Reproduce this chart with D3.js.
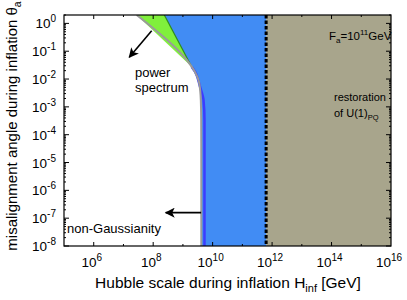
<!DOCTYPE html>
<html>
<head>
<meta charset="utf-8">
<script src="https://cdn.jsdelivr.net/npm/d3@7"></script>
<style>
  body { margin: 0; background: #fff; }
  text { font-family: "Liberation Sans", Arial, sans-serif; fill: #000; }
</style>
</head>
<body>
<div id="chart"></div>
<script>
// Hubble scale H_inf [GeV] vs misalignment angle theta_a
const xTicks = [1e6, 1e8, 1e10, 1e12, 1e14, 1e16];
const yTicks = [1e0, 1e-1, 1e-2, 1e-3, 1e-4, 1e-5, 1e-6, 1e-7, 1e-8];

// gray "power spectrum" bound [H, theta]
const powerSpectrum = [
  [2.79e7, 2], [1.97e9, 0.0278], [2.55e9, 0.0179], [3.48e9, 7.8e-3],
  [4.0e9, 1.77e-3], [4.12e9, 3.4e-4], [4.15e9, 1e-5], [4.15e9, 1e-8]
];
// upper edge of the blue region (green/blue border)
const isocurvature = [[2.37e8, 2], [1.97e9, 0.0278]];
// dark blue bound below the knee
const blueBound = [
  [1.97e9, 0.0278], [2.55e9, 0.0184], [3.76e9, 5.3e-3], [4.93e9, 1.77e-3],
  [5.32e9, 3.4e-4], [5.32e9, 1e-5], [5.32e9, 1e-8]
];
// restoration of U(1)_PQ : H_inf > 2 pi F_a
const hRestore = 6.3e11;
const hMax = 1e16;

// arrows [from, to]
const psArrow = [[8.9e7, 0.547], [1.57e7, 0.0605]];
const ngArrow = [[4.1e9, 1.58e-7], [2.64e8, 1.58e-7]];

const margin = { top: 15, right: 16, bottom: 54, left: 64 };
const width = 407 - margin.left - margin.right;
const height = 300 - margin.top - margin.bottom;

const svg = d3.select("#chart")
    .append("svg")
    .attr("width", 407)
    .attr("height", 300);

const g = svg.append("g")
    .attr("transform", `translate(${margin.left},${margin.top})`);

const x = d3.scaleLog().domain([1e5, 1e16]).range([0, width]);
const y = d3.scaleLog().domain([1e-8, 2]).range([height, 0]);

const defs = svg.append("defs");
defs.append("clipPath").attr("id", "clip")
    .append("rect").attr("width", width).attr("height", height);
defs.append("marker")
    .attr("id", "head")
    .attr("viewBox", "0 0 10 10")
    .attr("refX", 9).attr("refY", 5)
    .attr("markerWidth", 11).attr("markerHeight", 10)
    .attr("markerUnits", "userSpaceOnUse")
    .attr("orient", "auto")
    .append("path")
    .attr("d", "M0,0 L10,5 L0,10 L2.5,5 Z")
    .attr("fill", "#000");

const plot = g.append("g").attr("clip-path", "url(#clip)");

const straight = d3.line().x(d => x(d[0])).y(d => y(d[1]));
const smooth = d3.line().x(d => x(d[0])).y(d => y(d[1])).curve(d3.curveMonotoneY);

// khaki region
plot.append("rect")
    .attr("x", x(hRestore))
    .attr("y", 0)
    .attr("width", x(hMax) - x(hRestore))
    .attr("height", height)
    .attr("fill", "#a8a58c");

// blue region
const blueLeft = isocurvature.concat(powerSpectrum.slice(2));
plot.append("path")
    .attr("d", smooth(blueLeft) + `L${x(hRestore)},${height}L${x(hRestore)},0Z`)
    .attr("fill", "#418cf4");

// green wedge
const greenPoly = [powerSpectrum[0], powerSpectrum[1], isocurvature[0]];
plot.append("path")
    .attr("d", straight(greenPoly) + "Z")
    .attr("fill", "#80f03c");

plot.append("path")
    .attr("d", straight(isocurvature))
    .attr("fill", "none")
    .attr("stroke", "#2e8b1e")
    .attr("stroke-width", 1.2);

plot.append("path")
    .attr("d", smooth(blueBound))
    .attr("fill", "none")
    .attr("stroke", "#3c3cff")
    .attr("stroke-width", 2.5);

plot.append("path")
    .attr("d", smooth(powerSpectrum))
    .attr("fill", "none")
    .attr("stroke", "#9a9a9a")
    .attr("stroke-width", 2);

// dashed restoration line
plot.append("line")
    .attr("x1", x(hRestore)).attr("x2", x(hRestore))
    .attr("y1", 0).attr("y2", height)
    .attr("stroke", "#000")
    .attr("stroke-width", 3)
    .attr("stroke-dasharray", "3.5,2");

// arrows
[psArrow, ngArrow].forEach(a => {
    g.append("line")
        .attr("x1", x(a[0][0])).attr("y1", y(a[0][1]))
        .attr("x2", x(a[1][0])).attr("y2", y(a[1][1]))
        .attr("stroke", "#000")
        .attr("stroke-width", 1.6)
        .attr("marker-end", "url(#head)");
});

// frame
g.append("rect")
    .attr("width", width).attr("height", height)
    .attr("fill", "none")
    .attr("stroke", "#000")
    .attr("stroke-width", 1.2);

// ticks, inward on all four sides
const xDecades = d3.range(6, 16).map(e => Math.pow(10, e));
const yMinor = [];
for (let e = -8; e < 1; e++) for (let m = 2; m < 10; m++) {
    const v = m * Math.pow(10, e);
    if (v <= 2) yMinor.push(v);
}

const ticks = g.append("g").attr("stroke", "#000").attr("stroke-width", 1);
xDecades.forEach(v => {
    const len = Math.round(Math.log10(v)) % 2 === 0 ? 4 : 2;
    ticks.append("line").attr("x1", x(v)).attr("x2", x(v)).attr("y1", height).attr("y2", height - len);
    ticks.append("line").attr("x1", x(v)).attr("x2", x(v)).attr("y1", 0).attr("y2", len);
});
yTicks.forEach(v => {
    ticks.append("line").attr("x1", 0).attr("x2", 5).attr("y1", y(v)).attr("y2", y(v));
    ticks.append("line").attr("x1", width).attr("x2", width - 5).attr("y1", y(v)).attr("y2", y(v));
});
yMinor.forEach(v => {
    ticks.append("line").attr("x1", 0).attr("x2", 2).attr("y1", y(v)).attr("y2", y(v));
    ticks.append("line").attr("x1", width).attr("x2", width - 2).attr("y1", y(v)).attr("y2", y(v));
});

// tick labels
xTicks.forEach(v => {
    const t = g.append("text")
        .attr("x", x(v) - 2)
        .attr("y", height + 21)
        .attr("text-anchor", "middle")
        .style("font-size", "13.5px");
    t.append("tspan").text("10");
    t.append("tspan").attr("dy", -6).style("font-size", "10px").text(Math.round(Math.log10(v)));
});
yTicks.forEach(v => {
    const e = Math.round(Math.log10(v));
    const t = g.append("text")
        .attr("x", -8)
        .attr("y", y(v) + 5)
        .attr("text-anchor", "end")
        .style("font-size", "13.5px");
    t.append("tspan").text("10");
    t.append("tspan").attr("dy", -6).style("font-size", "10px").text(e === 0 ? "0" : "-" + (-e));
});

// axis titles
const xt = svg.append("text")
    .attr("x", 228).attr("y", 288)
    .attr("text-anchor", "middle")
    .style("font-size", "15.5px");
xt.append("tspan").text("Hubble scale during inflation H");
xt.append("tspan").attr("dy", 4).style("font-size", "11px").text("inf");
xt.append("tspan").attr("dy", -4).text(" [GeV]");

const yt = svg.append("text")
    .attr("transform", "translate(17,126) rotate(-90)")
    .attr("text-anchor", "middle")
    .style("font-size", "15px");
yt.append("tspan").text("misalignment angle during inflation \u03b8");
yt.append("tspan").attr("dy", 4).style("font-size", "10.5px").text("a");

// annotations
const fa = svg.append("text").attr("x", 329).attr("y", 40).style("font-size", "11.5px");
fa.append("tspan").text("F");
fa.append("tspan").attr("dy", 3).style("font-size", "8px").text("a");
fa.append("tspan").attr("dy", -3).text("=10");
fa.append("tspan").attr("dy", -5).style("font-size", "8px").text("11");
fa.append("tspan").attr("dy", 5).text("GeV");

svg.append("text").attr("x", 334).attr("y", 101).style("font-size", "11px").text("restoration");
const pq = svg.append("text").attr("x", 334).attr("y", 117).style("font-size", "11px");
pq.append("tspan").text("of U(1)");
pq.append("tspan").attr("dy", 3).style("font-size", "7.5px").text("PQ");

svg.append("text").attr("x", 135).attr("y", 77).style("font-size", "13px").text("power");
svg.append("text").attr("x", 135).attr("y", 92).style("font-size", "13px").text("spectrum");
svg.append("text").attr("x", 67).attr("y", 233).style("font-size", "13px").text("non-Gaussianity");
</script>
</body>
</html>
